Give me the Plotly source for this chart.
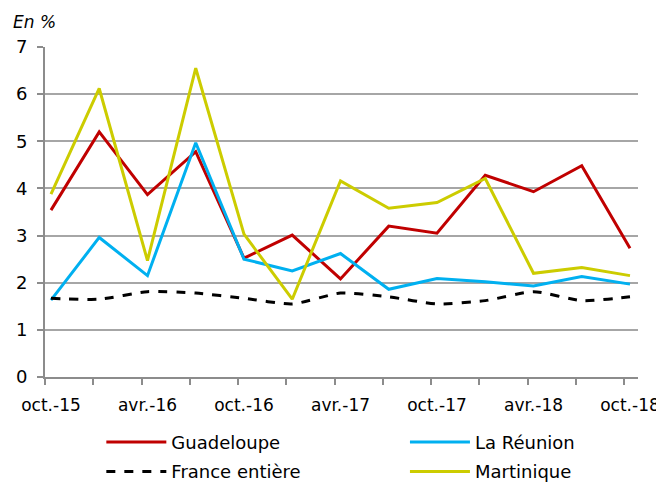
import plotly.graph_objects as go

categories = ["oct.-15", "janv.-16", "avr.-16", "juil.-16", "oct.-16", "janv.-17", "avr.-17",
              "juil.-17", "oct.-17", "janv.-18", "avr.-18", "juil.-18", "oct.-18"]
guadeloupe = [3.54, 5.20, 3.87, 4.78, 2.52, 3.01, 2.08, 3.20, 3.05, 4.28, 3.93, 4.48, 2.73]
reunion = [1.63, 2.96, 2.15, 4.97, 2.50, 2.25, 2.62, 1.86, 2.09, 2.02, 1.93, 2.13, 1.97]
france = [1.67, 1.65, 1.81, 1.78, 1.67, 1.55, 1.78, 1.70, 1.55, 1.62, 1.81, 1.62, 1.70]
martinique = [3.88, 6.12, 2.47, 6.55, 3.03, 1.65, 4.16, 3.58, 3.70, 4.21, 2.20, 2.32, 2.15]
tick_labels = ["oct.-15", "avr.-16", "oct.-16", "avr.-17", "oct.-17", "avr.-18", "oct.-18"]
y_ticks = [0, 1, 2, 3, 4, 5, 6, 7]

x = list(range(len(categories)))
FONT = "DejaVu Sans"

fig = go.Figure()
fig.add_trace(go.Scatter(x=x, y=guadeloupe, name="Guadeloupe", mode="lines",
                         legend="legend", legendgroup="g1",
                         line=dict(color="#C00000", width=3)))
fig.add_trace(go.Scatter(x=x, y=reunion, name="La Réunion", mode="lines",
                         legend="legend2", legendgroup="g2",
                         line=dict(color="#00B0F0", width=3)))
fig.add_trace(go.Scatter(x=x, y=france, name="France entière", mode="lines",
                         legend="legend", legendgroup="g3",
                         line=dict(color="#000000", width=3, dash="dash", shape="spline", smoothing=0.6)))
fig.add_trace(go.Scatter(x=x, y=martinique, name="Martinique", mode="lines",
                         legend="legend2", legendgroup="g4",
                         line=dict(color="#CCCC00", width=3)))

leg_common = dict(orientation="v", yanchor="top", y=-0.142, xanchor="left",
                  tracegroupgap=3, itemwidth=60,
                  font=dict(family=FONT, size=18), bgcolor="rgba(0,0,0,0)")

fig.update_layout(
    width=656, height=474,
    margin=dict(l=37, r=26, t=39, b=105, autoexpand=False),
    paper_bgcolor="white", plot_bgcolor="white",
    font=dict(family=FONT, size=17, color="#000000"),
    showlegend=True,
    legend=dict(x=0.095, **leg_common),
    legend2=dict(x=0.607, **leg_common),
    xaxis=dict(range=[-0.124, 12.166], tickmode="array",
               tickvals=[x[i] for i in range(0, len(x), 2)], ticktext=tick_labels,
               ticks="", showgrid=False, zeroline=False,
               showline=True, linecolor="#8C8C8C", linewidth=2,
               ticklabelstandoff=12,
               tickfont=dict(family=FONT, size=17),
               minor=dict(ticks="outside", tick0=-0.124, dtick=1, ticklen=6,
                          tickcolor="#8C8C8C", tickwidth=2, showgrid=False)),
    yaxis=dict(range=[0, 7], tickvals=y_ticks, showgrid=True, gridcolor="#A6A6A6", gridwidth=2,
               zeroline=False, showline=True, linecolor="#8C8C8C", linewidth=2,
               ticks="outside", ticklen=6, tickcolor="#8C8C8C", tickwidth=2,
               ticklabelstandoff=6,
               tickfont=dict(family=FONT, size=18)),
)

fig.add_annotation(text="<i>En %</i>", xref="paper", yref="paper", x=-0.017, y=1.076,
                   xanchor="center", yanchor="middle", showarrow=False,
                   font=dict(family=FONT, size=17))

fig.write_html("out.html")
